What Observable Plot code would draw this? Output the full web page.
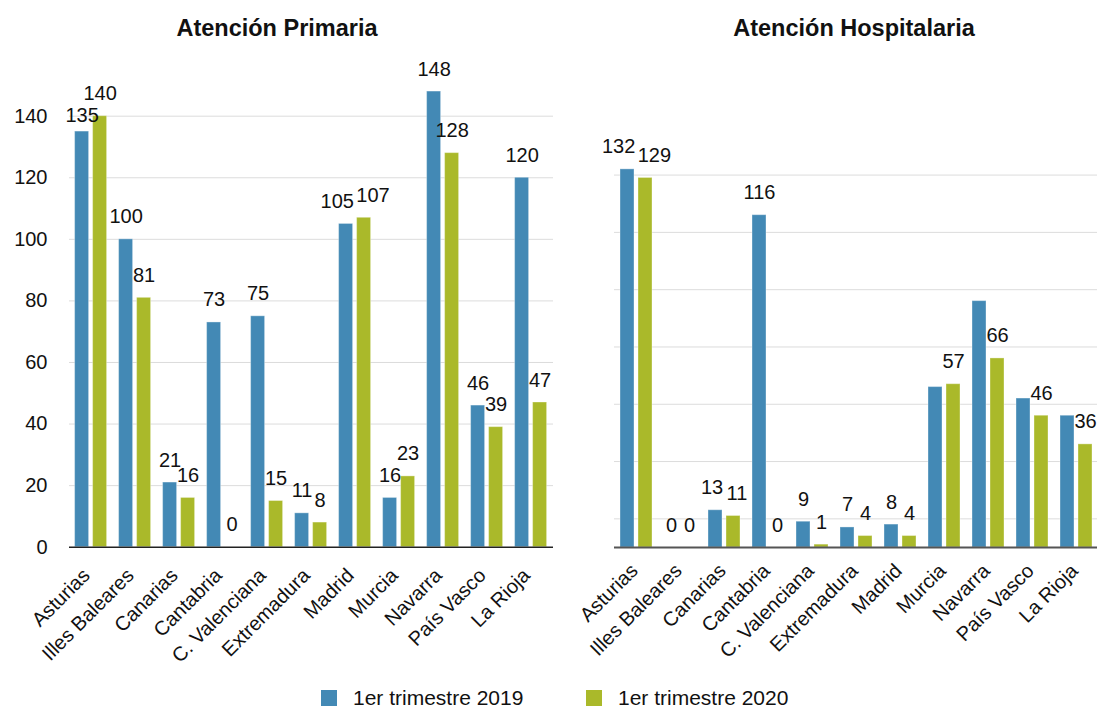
<!DOCTYPE html>
<html lang="es">
<head>
<meta charset="utf-8">
<script src="https://cdn.jsdelivr.net/npm/d3@7"></script>
<script src="https://cdn.jsdelivr.net/npm/@observablehq/plot@0.6"></script>
<style>
  html, body { margin: 0; padding: 0; background: #fff; overflow: hidden; }
  body { font-family: "Helvetica Neue", Helvetica, "Liberation Sans", Arial, sans-serif; color: #111; }
  #wrap { position: relative; width: 1097px; height: 709px; overflow: hidden; }
  .panel { position: absolute; top: 0; }
  .title { position: absolute; top: 17px; width: 400px; text-align: center; font-weight: bold;
           font-size: 23.5px; line-height: 23.5px; white-space: nowrap; }
  .legend-item { position: absolute; top: 687px; display: flex; align-items: center;
                 font-size: 21px; line-height: 21px; white-space: nowrap; }
  .swatch { width: 16px; height: 16px; margin-right: 16px; }
</style>
</head>
<body>
<div id="wrap"></div>
<script>
// Comunidades autónomas (orden del eje X)
const regions = ["Asturias", "Illes Baleares", "Canarias", "Cantabria", "C. Valenciana",
  "Extremadura", "Madrid", "Murcia", "Navarra", "País Vasco", "La Rioja"];

// Series comparadas
const series = ["1er trimestre 2019", "1er trimestre 2020"];
const seriesColors = ["#4389b5", "#aab92a"];

// Atención Primaria
const primaria2019 = [135, 100, 21, 73, 75, 11, 105, 16, 148, 46, 120];
const primaria2020 = [140, 81, 16, 0, 15, 8, 107, 23, 128, 39, 47];

// Atención Hospitalaria
const hospitalaria2019 = [132, 0, 13, 116, 9, 7, 8, 56, 86, 52, 46];
const hospitalaria2020 = [129, 0, 11, 0, 1, 4, 4, 57, 66, 46, 36];
// Barras de 2019 sin etiqueta de valor en el panel hospitalario
const hospitalaria2019SinEtiqueta = ["Murcia", "Navarra", "País Vasco", "La Rioja"];

// Marcas del eje Y
const primariaTicks = [0, 20, 40, 60, 80, 100, 120, 140];
const hospitalariaGrid = [10, 30, 50, 70, 90, 110, 130];

const FONT = '"Helvetica Neue", Helvetica, "Liberation Sans", Arial, sans-serif';
const HEIGHT = 670;
const Y_MAX = 150;
const LABEL_SIZE = 20;
const LABEL_GAP = 16;     // separación entre barra y etiqueta (px)
const LABEL_CLASH = 15;   // diferencia vertical por debajo de la cual dos etiquetas chocan (px)
const LABEL_STACK = 22;   // separación vertical mínima entre etiquetas anchas apiladas (px)
const PAIR_DIST = 18.5;   // distancia entre centros de barras de un grupo (px)

function rowsFrom(v2019, v2020, unlabeled2019 = []) {
  const rows = [];
  regions.forEach((region, i) => {
    rows.push({region, series: series[0], value: v2019[i], labeled: !unlabeled2019.includes(region)});
    rows.push({region, series: series[1], value: v2020[i], labeled: true});
  });
  return rows;
}

// Coloca las etiquetas sobre las barras; si las dos etiquetas de un grupo
// chocan, se separan en horizontal o se apilan en vertical.
function placeLabels(rows, pxPerUnit) {
  const labels = rows.filter(d => d.labeled).map(d => ({
    ...d,
    text: String(d.value),
    bottom: d.value * pxPerUnit + LABEL_GAP,
    width: String(d.value).length * 0.556 * LABEL_SIZE,
    dx: 0
  }));
  for (const region of regions) {
    const pair = labels.filter(d => d.region === region);
    if (pair.length !== 2) continue;
    const [a, b] = pair;
    const overlap = (a.width + b.width) / 2 - PAIR_DIST;
    const dy = Math.abs(a.bottom - b.bottom);
    if (overlap > 0 && dy < LABEL_CLASH) {
      const shift = Math.round((overlap + 3) / 2 * 10) / 10;
      a.dx = -shift;
      b.dx = shift;
    } else if (overlap > 5 && dy < LABEL_STACK) {
      const [hi, lo] = a.bottom >= b.bottom ? [a, b] : [b, a];
      lo.bottom = hi.bottom - LABEL_STACK;
    }
  }
  return labels.map(d => ({...d, labelY: d.bottom / pxPerUnit}));
}

function panel({rows, width, marginLeft, marginRight, marginTop, marginBottom, grid, tickLabels,
                baseColor, baseWidth, axisPadding, axisDx}) {
  const pxPerUnit = (HEIGHT - marginBottom - marginTop) / Y_MAX;
  const labels = placeLabels(rows, pxPerUnit);
  const labelMarks = Array.from(d3.group(labels, d => d.dx), ([dx, group]) =>
    Plot.text(group, {fx: "region", x: "series", y: "labelY", text: "text", dx,
      lineAnchor: "bottom", fontSize: LABEL_SIZE, fill: "#111"}));
  return Plot.plot({
    width, height: HEIGHT, marginLeft, marginRight, marginTop, marginBottom,
    style: {fontFamily: FONT, fontSize: "20px", color: "#111", background: "transparent", overflow: "visible"},
    fx: {domain: regions, padding: 0, label: null, axis: null},
    x: {domain: series, axis: null, paddingInner: 0.216, paddingOuter: 0.3045},
    y: {domain: [0, Y_MAX], axis: null},
    color: {domain: series, range: seriesColors},
    marks: [
      Plot.ruleY(grid.filter(d => d > 0), {stroke: "#dcdcdc", strokeWidth: 1}),
      tickLabels ? Plot.axisY(grid, {anchor: "left", tickSize: 0, tickPadding: 22, label: null, fontSize: 20, fill: "#111"}) : null,
      Plot.barY(rows, {fx: "region", x: "series", y: "value", fill: "series",
        stroke: "#ffffff", strokeOpacity: 0.35, strokeWidth: 1}),
      Plot.ruleY([0], {stroke: baseColor, strokeWidth: baseWidth}),
      ...labelMarks,
      Plot.axisFx({anchor: "bottom", tickRotate: -45, tickSize: 0, tickPadding: axisPadding, dx: axisDx,
        label: null, fontSize: 20, fill: "#111"})
    ]
  });
}

const wrap = document.getElementById("wrap");

const left = panel({
  rows: rowsFrom(primaria2019, primaria2020),
  width: 560, marginLeft: 67.4, marginRight: 6, marginTop: 84.9, marginBottom: 123.3,
  grid: primariaTicks, tickLabels: true, baseColor: "#222", baseWidth: 1.5,
  axisPadding: 25, axisDx: -5
});
left.classList.add("panel");
left.style.left = "0px";
wrap.appendChild(left);

const right = panel({
  rows: rowsFrom(hospitalaria2019, hospitalaria2020, hospitalaria2019SinEtiqueta),
  width: 541, marginLeft: 50, marginRight: 0, marginTop: 117.3, marginBottom: 123,
  grid: hospitalariaGrid, tickLabels: false, baseColor: "#555", baseWidth: 2,
  axisPadding: 20, axisDx: -2
});
right.classList.add("panel");
right.style.left = "560px";
wrap.appendChild(right);

// Títulos de los paneles
[["Atención Primaria", 277], ["Atención Hospitalaria", 854]].forEach(([t, cx]) => {
  const d = document.createElement("div");
  d.className = "title";
  d.textContent = t;
  d.style.left = (cx - 200) + "px";
  wrap.appendChild(d);
});

// Leyenda
[[series[0], seriesColors[0], 321], [series[1], seriesColors[1], 586]].forEach(([t, c, x]) => {
  const item = document.createElement("div");
  item.className = "legend-item";
  item.style.left = x + "px";
  const sw = document.createElement("span");
  sw.className = "swatch";
  sw.style.background = c;
  const label = document.createElement("span");
  label.textContent = t;
  item.appendChild(sw);
  item.appendChild(label);
  wrap.appendChild(item);
});
</script>
</body>
</html>
